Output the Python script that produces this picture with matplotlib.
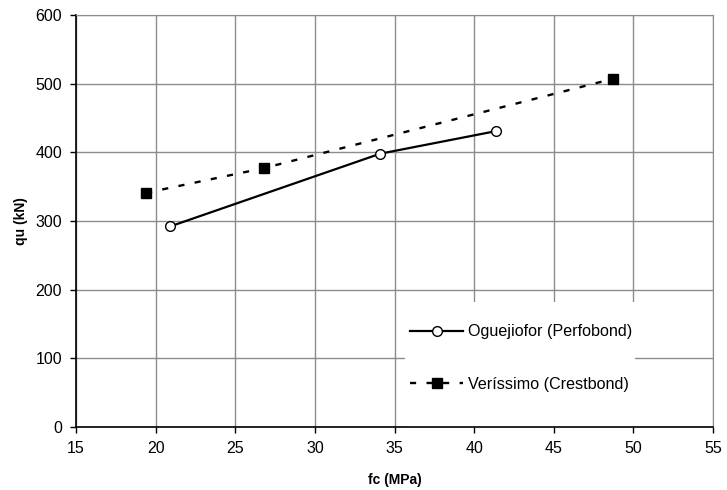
import numpy as np
import matplotlib.pyplot as plt
from matplotlib.patches import Rectangle

plt.rcParams['font.family'] = ['Liberation Sans', 'DejaVu Sans']

# Oguejiofor (Perfobond)
fc_ogu = [20.9, 34.1, 41.4]
qu_ogu = [292, 398, 431]
# Veríssimo (Crestbond)
fc_ver = [19.4, 26.8, 48.7]
qu_ver = [341, 377, 507]

xticks = [15, 20, 25, 30, 35, 40, 45, 50, 55]
yticks = [0, 100, 200, 300, 400, 500, 600]

fig = plt.figure(figsize=(7.27, 4.9), dpi=100)
ax = fig.add_axes([76/727, 63/490, 637/727, 412/490])

ax.set_xlim(15, 55)
ax.set_ylim(0, 600)
ax.set_xticks(xticks)
ax.set_yticks(yticks)
ax.set_axisbelow(True)
ax.grid(True, color='#8c8c8c', linewidth=1.0)

# white box behind the legend hides the grid there
ax.add_patch(Rectangle(((405-76)/637, 0), (635-405)/637, (427-302)/412,
                       transform=ax.transAxes, facecolor='white',
                       edgecolor='none', zorder=1))

ax.plot(fc_ogu, qu_ogu, color='black', lw=1.6, marker='o', ms=7,
        mfc='white', mec='black', mew=1.0, zorder=3,
        label='Oguejiofor (Perfobond)')
ax.plot(fc_ver, qu_ver, color='black', lw=1.7, ls=(0, (2.6, 4.4)),
        marker='s', ms=6.5, mfc='black', mec='black', zorder=3,
        label='Veríssimo (Crestbond)')

for s in ['top', 'right']:
    ax.spines[s].set_color('#8c8c8c')
for s in ['left', 'bottom']:
    ax.spines[s].set_color('black')
    ax.spines[s].set_linewidth(1.2)

ax.tick_params(direction='out', length=4, width=1, color='black',
               labelsize=11.5, pad=6)

ax.set_xlabel('fc (MPa)', fontsize=10, fontweight='bold', labelpad=12)
ax.set_ylabel('qu (kN)', fontsize=10, fontweight='bold', labelpad=5)

ax.legend(loc='center left', bbox_to_anchor=((410-76)/637, (427-358)/412),
          frameon=False, fontsize=11.6, borderpad=0, handlelength=3.3,
          handletextpad=0.3, labelspacing=2.3, borderaxespad=0)

fig.savefig('out.png', dpi=100)
